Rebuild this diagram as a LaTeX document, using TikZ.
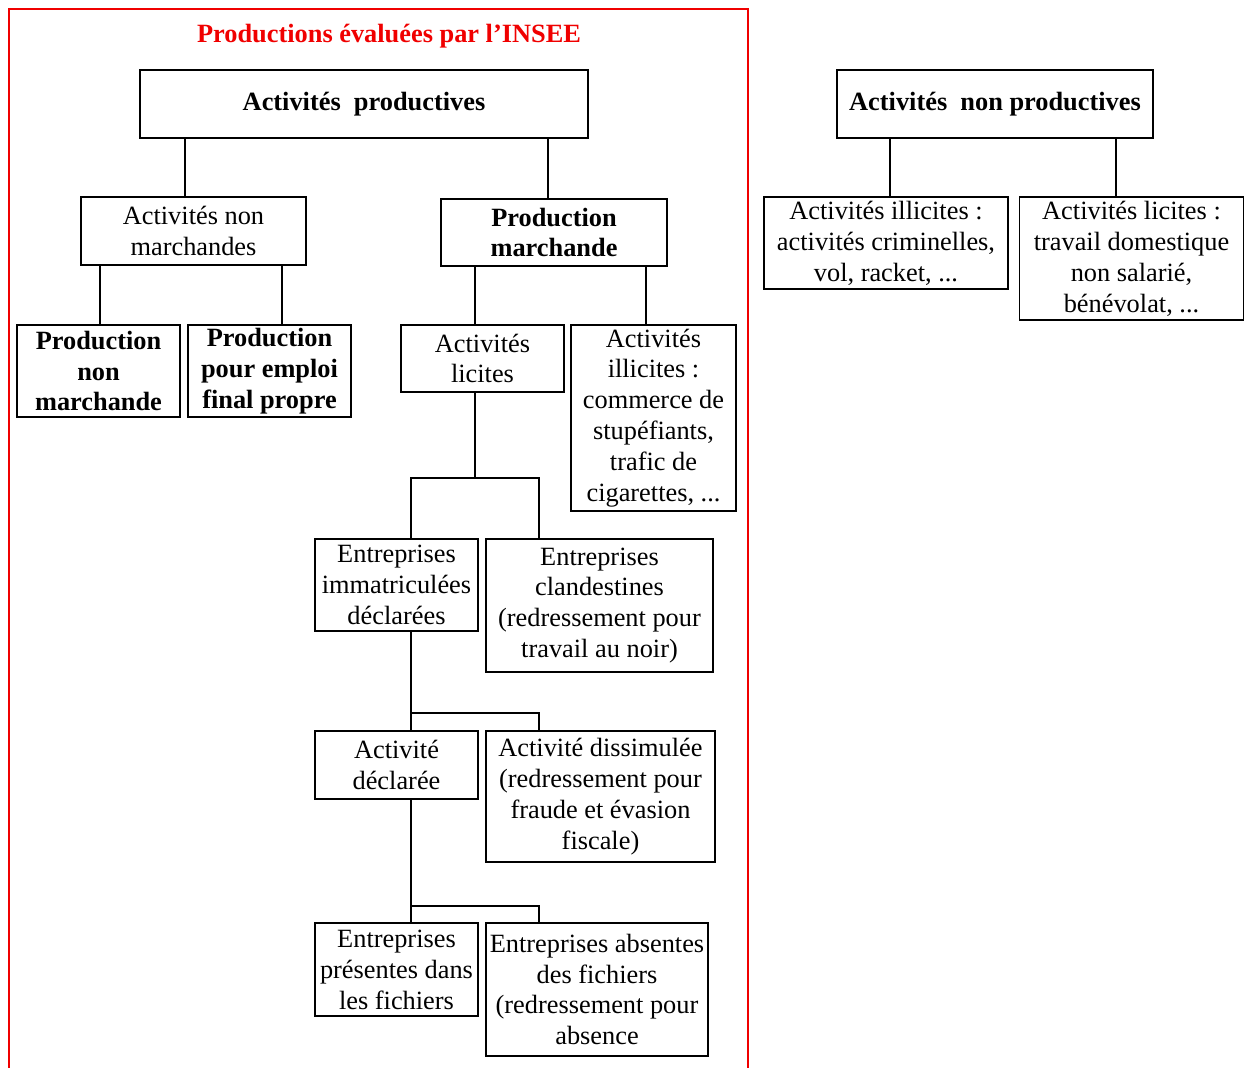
\documentclass[tikz,border=0pt]{standalone}
\usepackage{fontspec}
\setmainfont{Liberation Serif}
\definecolor{inseered}{RGB}{240, 0, 0}
\usepackage{tikz}
\usetikzlibrary{positioning, calc}

\begin{document}
\begin{tikzpicture}[x=0.02cm, y=-0.02cm,
    boite/.style={draw, line width=0.8pt, align=center, inner sep=0pt, font=\fontsize{15}{17.6}\selectfont},
    gras/.style={boite, font=\fontsize{15}{17.6}\selectfont\bfseries},
    lien/.style={line width=0.6pt}]
  \useasboundingbox (0,0) rectangle (1245,1068);

  % Cadre INSEE
  \draw[inseered, line width=1.7pt] (9,1068) -- (9,9) -- (748,9) -- (748,1068);
  \node[font=\fontsize{15}{17.6}\selectfont\bfseries, text=inseered] (titre) at (389,36) {Productions évaluées par l’INSEE};

  % Niveau 1
  \node[gras, minimum width=8.96cm, minimum height=1.36cm] (ap) at (364,104) {Activités\ \ productives};
  \node[gras, minimum width=6.32cm, minimum height=1.36cm] (anp) at (995,104) {Activités\ \ non productives};

  % Niveau 2
  \node[boite, minimum width=4.5cm, minimum height=1.36cm] (anm) at (193.5,231) {Activités non\\marchandes};
  \node[gras, minimum width=4.52cm, minimum height=1.34cm] (pm) at (554,232.5) {Production\\marchande};
  \node[boite, minimum width=4.88cm, minimum height=1.84cm] (aii) at (886,243) {Activités illicites :\\activités criminelles,\\vol, racket, ...};
  \node[boite, minimum width=4.48cm, minimum height=2.46cm] (ali) at (1131.5,258.5) {Activités licites :\\travail domestique\\non salarié,\\bénévolat, ...};

  % Niveau 3
  \node[gras, minimum width=3.26cm, minimum height=1.84cm] (pnm) at (98.5,371) {Production\\non\\marchande};
  \node[gras, minimum width=3.26cm, minimum height=1.84cm] (pefp) at (269.5,371) {Production\\pour emploi\\final propre};
  \node[boite, minimum width=3.26cm, minimum height=1.34cm] (al) at (482.5,358.5) {Activités\\licites};
  \node[boite, minimum width=3.3cm, minimum height=3.72cm] (ai) at (653.5,418) {Activités\\illicites :\\commerce de\\stupéfiants,\\trafic de\\cigarettes, ...};

  % Niveau 4
  \node[boite, minimum width=3.26cm, minimum height=1.84cm] (eid) at (396.5,585) {Entreprises\\immatriculées\\déclarées};
  \node[boite, minimum width=4.54cm, minimum height=2.66cm] (ec) at (599.5,605.5) {Entreprises\\clandestines\\(redressement pour\\travail au noir)};

  % Niveau 5
  \node[boite, minimum width=3.26cm, minimum height=1.36cm] (ad) at (396.5,765) {Activité\\déclarée};
  \node[boite, minimum width=4.58cm, minimum height=2.62cm] (adis) at (600.5,796.5) {Activité dissimulée\\(redressement pour\\fraude et évasion\\fiscale)};

  % Niveau 6
  \node[boite, minimum width=3.26cm, minimum height=1.86cm] (epf) at (396.5,969.5) {Entreprises\\présentes dans\\les fichiers};
  \node[boite, minimum width=4.44cm, minimum height=2.66cm] (eaf) at (597,989.5) {Entreprises absentes\\des fichiers\\(redressement pour\\absence};

  % Liens
  \draw[lien] (ap.south -| 185,0) -- (anm.north -| 185,0);
  \draw[lien] (ap.south -| 548,0) -- (pm.north -| 548,0);
  \draw[lien] (anp.south -| 890,0) -- (aii.north -| 890,0);
  \draw[lien] (anp.south -| 1116,0) -- (ali.north -| 1116,0);
  \draw[lien] (anm.south -| 100,0) -- (pnm.north -| 100,0);
  \draw[lien] (anm.south -| 282,0) -- (pefp.north -| 282,0);
  \draw[lien] (pm.south -| 475,0) -- (al.north -| 475,0);
  \draw[lien] (pm.south -| 646,0) -- (ai.north -| 646,0);
  \draw[lien] (al.south -| 475,0) -- (475,478);
  \draw[lien] (eid.north -| 411,0) |- (539,478) -- (ec.north -| 539,0);
  \draw[lien] (eid.south -| 411,0) -- (ad.north -| 411,0);
  \draw[lien] (411,713) -| (adis.north -| 539,0);
  \draw[lien] (ad.south -| 411,0) -- (epf.north -| 411,0);
  \draw[lien] (411,906) -| (eaf.north -| 539,0);
\end{tikzpicture}
\end{document}
